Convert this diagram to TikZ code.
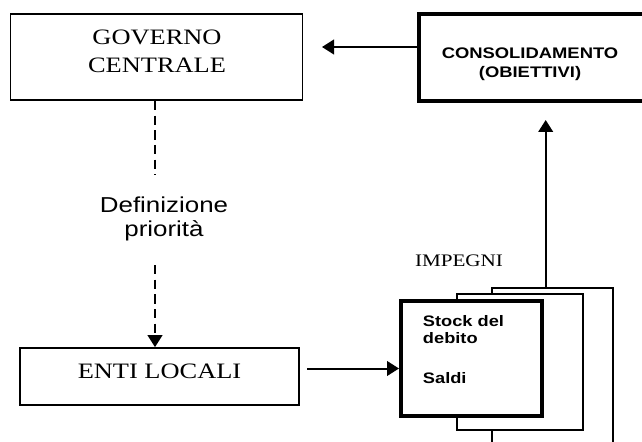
\documentclass[tikz,border=0pt]{standalone}
\usepackage{fontspec}
\setmainfont{Liberation Serif}[FakeStretch=1.2]
\setsansfont{Liberation Sans}[FakeStretch=1.2]
\usetikzlibrary{positioning, arrows.meta}

\tikzset{
  box/.style={draw, line width=1.3pt, fill=white, inner sep=0pt},
  thickbox/.style={draw, line width=3pt, fill=white, inner sep=0pt},
  txt/.style={inner sep=0pt, align=center},
  link/.style={line width=1.5pt, -{Triangle[length=9pt,width=11pt]}},
  dashline/.style={line width=1.5pt, dash pattern=on 7pt off 4pt},
}

\begin{document}
\begin{tikzpicture}[x=0.75pt, y=-0.75pt]
    \clip (0,0) rectangle (642,442);

    % boxes
    \node[box, minimum width=219pt, minimum height=64.5pt] (gov) at (156.5,57) {};
    \node[thickbox, minimum width=170.25pt, minimum height=65.25pt] (cons) at (532.5,57.5) {};
    \node[box, minimum width=209.25pt, minimum height=42.75pt] (enti) at (159.5,376.5) {};

    % pile of commitments
    \node[box, minimum width=91.2pt, minimum height=129.2pt] (back) at (552.5,373.85) {};
    \node[box, minimum width=94.5pt, minimum height=102pt] (mid) at (520,362) {};
    \node[thickbox, minimum width=105.75pt, minimum height=86.25pt] (front) at (471.5,358.2) {};

    % texts
    \node[txt, font=\fontsize{16.5}{21}\selectfont] (govtxt) at (157,51.7) {GOVERNO\\CENTRALE};
    \node[txt, font=\sffamily\bfseries\fontsize{11.5}{14.25}\selectfont] (constxt) at (530,64) {CONSOLIDAMENTO\\(OBIETTIVI)};
    \node[txt, font=\fontsize{16.5}{20}\selectfont] (entitxt) at (159.5,371) {ENTI LOCALI};
    \node[txt, font=\fontsize{13.2}{16}\selectfont] (impegni) at (459,260.8) {IMPEGNI};
    \node[txt, font=\sffamily\fontsize{16.2}{18}\selectfont] (prio) at (164,218.5) {Definizione\\priorità};
    \node[inner sep=0pt, align=left, anchor=north west,
          font=\sffamily\bfseries\fontsize{11.4}{12.75}\selectfont] (stock) at (422.7,315)
          {Stock del\\debito\\[17.25pt]Saldi};

    % connectors
    \coordinate (d1) at (155,175);
    \coordinate (d2) at (155,265);
    \draw[dashline] (gov.south -| d1) -- (d1);
    \draw[dashline, -{Triangle[length=9pt,width=11pt]}] (d2) -- (enti.north -| d2);

    \coordinate (a1) at (322,47);
    \draw[link] (cons.west |- a1) -- (a1);
    \coordinate (a2) at (545.7,120);
    \draw[link] (back.north -| a2) -- (a2);
    \coordinate (a3) at (307,368.5);
    \draw[link] (a3) -- (front.west |- a3);
\end{tikzpicture}
\end{document}
